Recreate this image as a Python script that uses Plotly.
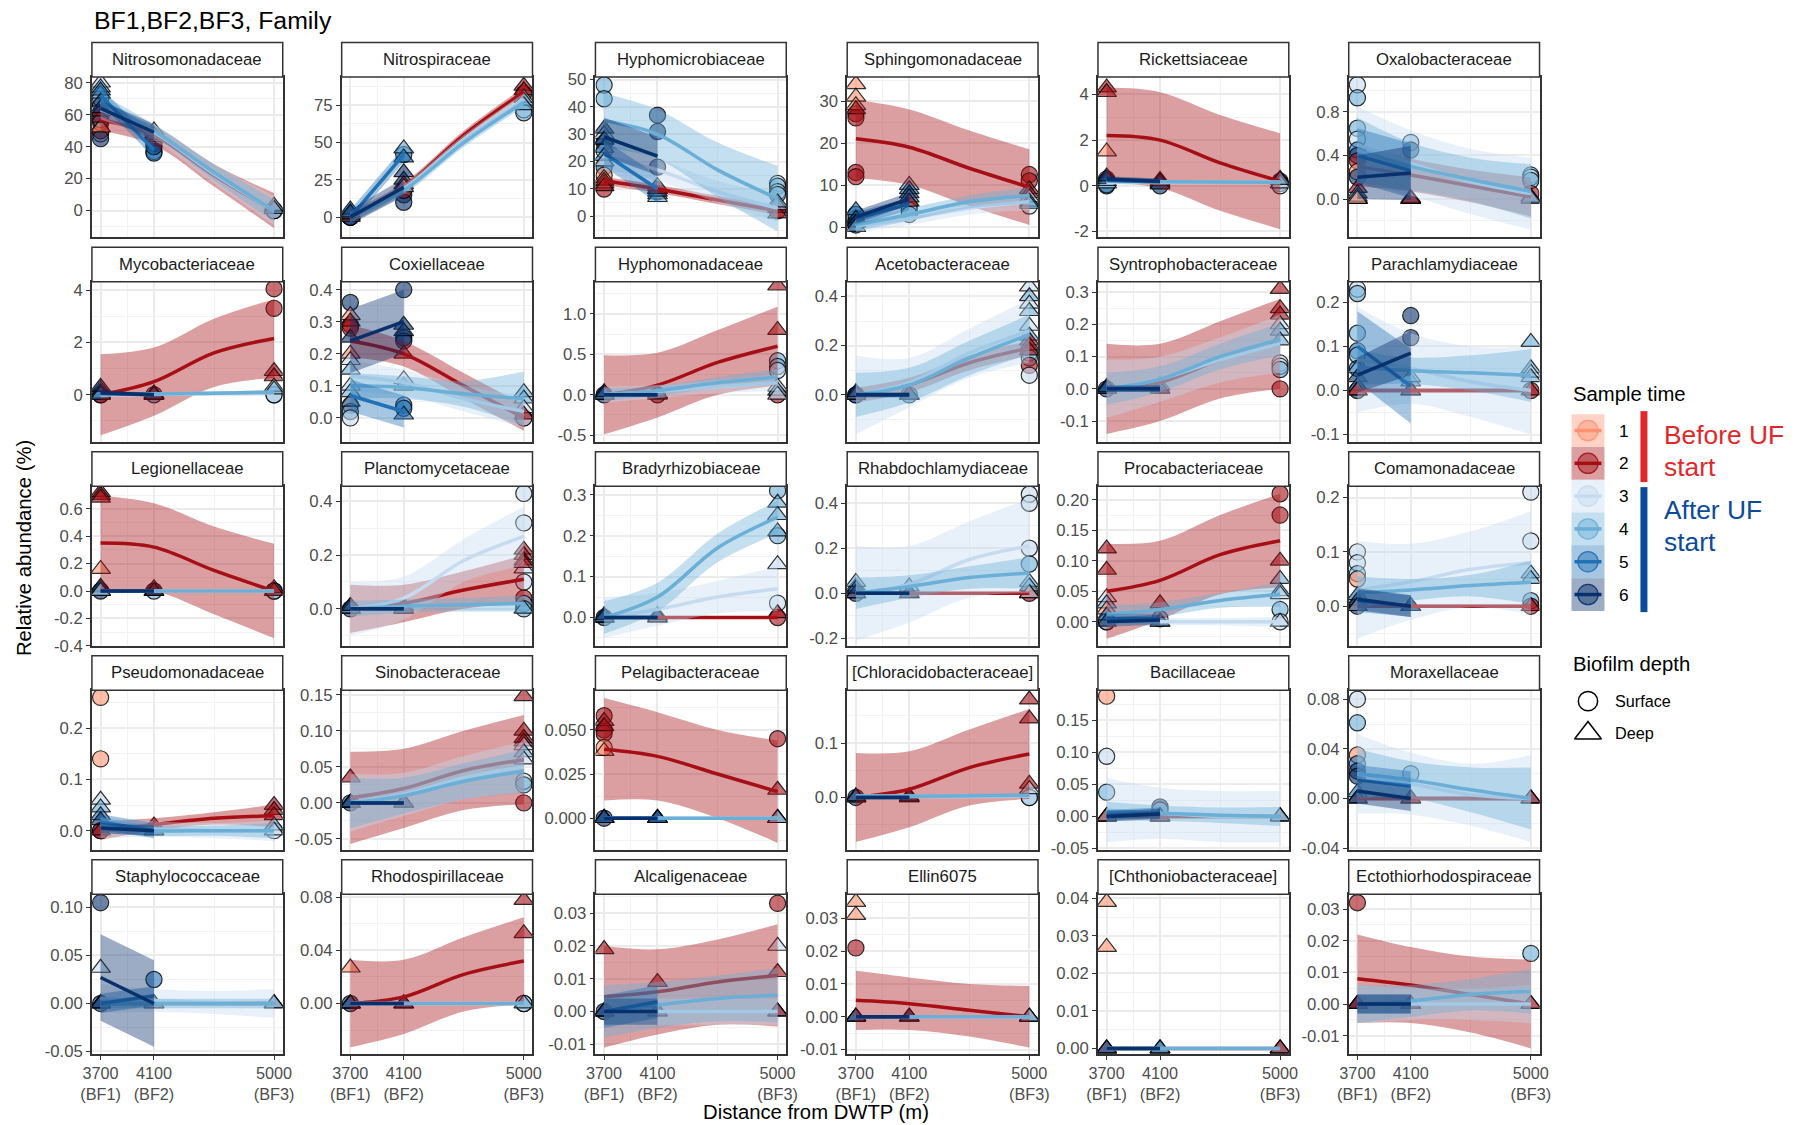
import plotly.graph_objects as go

# ---------------- data ----------------
FAMILIES = ["Nitrosomonadaceae", "Nitrospiraceae", "Hyphomicrobiaceae", "Sphingomonadaceae", "Rickettsiaceae", "Oxalobacteraceae",
            "Mycobacteriaceae", "Coxiellaceae", "Hyphomonadaceae", "Acetobacteraceae", "Syntrophobacteraceae", "Parachlamydiaceae",
            "Legionellaceae", "Planctomycetaceae", "Bradyrhizobiaceae", "Rhabdochlamydiaceae", "Procabacteriaceae", "Comamonadaceae",
            "Pseudomonadaceae", "Sinobacteraceae", "Pelagibacteraceae", "[Chloracidobacteraceae]", "Bacillaceae", "Moraxellaceae",
            "Staphylococcaceae", "Rhodospirillaceae", "Alcaligenaceae", "Ellin6075", "[Chthoniobacteraceae]", "Ectothiorhodospiraceae"]

DISTANCES = [3700, 4100, 5000]
DIST_LABELS = ["3700<br>(BF1)", "4100<br>(BF2)", "5000<br>(BF3)"]
X_MINOR = [3900, 4550]
FIT_X_LONG = [3700, 4100, 4550, 5000]
FIT_X_SHORT = [3700, 4100]
SAMPLE_TIMES = [1, 2, 3, 4, 5, 6]
TIME_COLORS = ["#FC9272", "#A50F15", "#C6DBEF", "#6BAED6", "#2171B5", "#08306B"]
DEPTHS = ["Surface", "Deep"]

Y_LIMITS = [[-16.6, 83.5], [-13.4, 93.9], [-7.6, 50.9], [-2.4, 35.7], [-2.25, 4.76], [-0.35, 1.12],
            [-1.79, 4.32], [-0.074, 0.425], [-0.58, 1.40], [-0.19, 0.46], [-0.164, 0.333], [-0.116, 0.247],
            [-0.402, 0.765], [-0.139, 0.457], [-0.07, 0.321], [-0.235, 0.476], [-0.04, 0.2225], [-0.0735, 0.221],
            [-0.038, 0.274], [-0.0656, 0.1565], [-0.0181, 0.0725], [-0.097, 0.1975], [-0.0526, 0.1974], [-0.0416, 0.0873],
            [-0.0528, 0.1139], [-0.0382, 0.0825], [-0.013, 0.0358], [-0.0114, 0.0374], [-0.0015, 0.0411], [-0.0158, 0.0347]]

Y_TICKS = [[0, 20, 40, 60, 80], [0, 25, 50, 75], [0, 10, 20, 30, 40, 50], [0, 10, 20, 30], [-2, 0, 2, 4], [0.0, 0.4, 0.8],
           [0, 2, 4], [0.0, 0.1, 0.2, 0.3, 0.4], [-0.5, 0.0, 0.5, 1.0], [0.0, 0.2, 0.4], [-0.1, 0.0, 0.1, 0.2, 0.3], [-0.1, 0.0, 0.1, 0.2],
           [-0.4, -0.2, 0.0, 0.2, 0.4, 0.6], [0.0, 0.2, 0.4], [0.0, 0.1, 0.2, 0.3], [-0.2, 0.0, 0.2, 0.4], [0.0, 0.05, 0.10, 0.15, 0.20], [0.0, 0.1, 0.2],
           [0.0, 0.1, 0.2], [-0.05, 0.0, 0.05, 0.10, 0.15], [0.0, 0.025, 0.05], [0.0, 0.1], [-0.05, 0.0, 0.05, 0.10, 0.15], [-0.04, 0.0, 0.04, 0.08],
           [-0.05, 0.0, 0.05, 0.10], [0.0, 0.04, 0.08], [-0.01, 0.0, 0.01, 0.02, 0.03], [-0.01, 0.0, 0.01, 0.02, 0.03], [0.0, 0.01, 0.02, 0.03, 0.04], [-0.01, 0.0, 0.01, 0.02, 0.03]]
Y_DECIMALS = [0, 0, 0, 0, 0, 1, 0, 1, 1, 1, 1, 1, 1, 1, 1, 1, 2, 1, 1, 2, 3, 1, 2, 2, 2, 2, 2, 2, 2, 2]

# observations: (sample time, distance, depth S/D, relative abundance %)
POINTS = [
    [(1, 3700, 'D', 52), (1, 3700, 'S', 48), (2, 3700, 'S', 50), (2, 3700, 'S', 55), (2, 3700, 'D', 58), (2, 3700, 'D', 62),
     (3, 3700, 'D', 80), (3, 3700, 'S', 66), (4, 3700, 'D', 77), (4, 3700, 'S', 70), (4, 3700, 'D', 73), (5, 3700, 'D', 75),
     (5, 3700, 'S', 60), (6, 3700, 'D', 68), (6, 3700, 'S', 45), (6, 3700, 'D', 64), (5, 3700, 'S', 57),
     (2, 4100, 'D', 48), (2, 4100, 'S', 43), (3, 4100, 'D', 50), (4, 4100, 'D', 46), (4, 4100, 'S', 42), (5, 4100, 'S', 37),
     (5, 4100, 'S', 36), (6, 4100, 'D', 47), (6, 4100, 'S', 40),
     (2, 5000, 'D', 2), (2, 5000, 'S', 0), (3, 5000, 'D', 3), (3, 5000, 'S', 0), (4, 5000, 'D', 1), (4, 5000, 'S', 0)],
    [(1, 3700, 'S', 0), (1, 3700, 'D', 0), (2, 3700, 'S', 0), (2, 3700, 'D', 1), (3, 3700, 'S', 0), (3, 3700, 'D', 2),
     (4, 3700, 'D', 3), (5, 3700, 'S', 0), (5, 3700, 'D', 5), (6, 3700, 'D', 3), (6, 3700, 'S', 0),
     (4, 4100, 'D', 46), (5, 4100, 'S', 42), (5, 4100, 'D', 40), (6, 4100, 'D', 30), (6, 4100, 'D', 25), (6, 4100, 'S', 15),
     (6, 4100, 'S', 10), (2, 4100, 'D', 22), (2, 4100, 'S', 18), (3, 4100, 'D', 20),
     (2, 5000, 'D', 88), (2, 5000, 'D', 85), (2, 5000, 'S', 83), (3, 5000, 'D', 80), (3, 5000, 'S', 72), (4, 5000, 'D', 78),
     (4, 5000, 'S', 70), (4, 5000, 'D', 75)],
    [(4, 3700, 'S', 48), (4, 3700, 'S', 43), (3, 3700, 'D', 30), (4, 3700, 'D', 28), (5, 3700, 'D', 25), (6, 3700, 'D', 32),
     (6, 3700, 'D', 28), (5, 3700, 'D', 22), (3, 3700, 'D', 20), (6, 3700, 'S', 27), (5, 3700, 'S', 18), (1, 3700, 'D', 14),
     (1, 3700, 'D', 12), (2, 3700, 'D', 13), (2, 3700, 'D', 11), (2, 3700, 'S', 10), (1, 3700, 'S', 15), (3, 3700, 'S', 24),
     (6, 4100, 'S', 37), (6, 4100, 'S', 31), (6, 4100, 'S', 18), (5, 4100, 'D', 10), (4, 4100, 'D', 8), (4, 4100, 'D', 7),
     (5, 4100, 'D', 9), (2, 4100, 'D', 10), (2, 4100, 'S', 9), (3, 4100, 'D', 11),
     (3, 5000, 'S', 12), (4, 5000, 'S', 11), (3, 5000, 'S', 9), (4, 5000, 'S', 8), (2, 5000, 'D', 3), (2, 5000, 'S', 2),
     (2, 5000, 'D', 1), (3, 5000, 'D', 4), (4, 5000, 'D', 5)],
    [(1, 3700, 'D', 34), (1, 3700, 'D', 31), (1, 3700, 'D', 29), (2, 3700, 'D', 28), (2, 3700, 'S', 27), (2, 3700, 'S', 26),
     (2, 3700, 'S', 13), (2, 3700, 'S', 12), (3, 3700, 'S', 1), (4, 3700, 'S', 2), (5, 3700, 'D', 4), (5, 3700, 'S', 3),
     (6, 3700, 'D', 2), (6, 3700, 'S', 0.5), (6, 3700, 'D', 1), (4, 3700, 'D', 0),
     (4, 4100, 'D', 10), (5, 4100, 'D', 9), (6, 4100, 'D', 8), (5, 4100, 'D', 7), (4, 4100, 'S', 5), (3, 4100, 'S', 4),
     (4, 4100, 'S', 3), (2, 4100, 'D', 6),
     (2, 5000, 'S', 12.5), (2, 5000, 'S', 11), (2, 5000, 'D', 9), (2, 5000, 'D', 8), (3, 5000, 'D', 7), (4, 5000, 'D', 6),
     (3, 5000, 'S', 5), (4, 5000, 'D', 5.5)],
    [(2, 3700, 'D', 4.3), (2, 3700, 'D', 4.1), (1, 3700, 'D', 1.5), (1, 3700, 'S', 0.3), (2, 3700, 'S', 0.2), (3, 3700, 'D', 0.1),
     (4, 3700, 'D', 0.2), (5, 3700, 'D', 0.3), (6, 3700, 'D', 0.4), (6, 3700, 'S', 0.1), (5, 3700, 'S', 0.0), (4, 3700, 'S', 0.05),
     (2, 4100, 'D', 0.25), (3, 4100, 'D', 0.1), (4, 4100, 'D', 0.15), (5, 4100, 'D', 0.05), (6, 4100, 'D', 0.2), (6, 4100, 'S', 0.0),
     (2, 5000, 'D', 0.3), (2, 5000, 'S', 0.2), (3, 5000, 'D', 0.1), (4, 5000, 'D', 0.25), (4, 5000, 'S', 0.1), (3, 5000, 'S', 0.0)],
    [(3, 3700, 'S', 1.05), (4, 3700, 'S', 0.93), (4, 3700, 'S', 0.65), (3, 3700, 'S', 0.55), (5, 3700, 'S', 0.45), (6, 3700, 'S', 0.4),
     (2, 3700, 'S', 0.35), (1, 3700, 'S', 0.25), (2, 3700, 'D', 0.1), (5, 3700, 'D', 0.05), (6, 3700, 'D', 0.0), (4, 3700, 'D', 0.0),
     (3, 3700, 'D', 0.02), (1, 3700, 'D', 0.0), (6, 3700, 'S', 0.2),
     (4, 4100, 'S', 0.52), (6, 4100, 'S', 0.45), (5, 4100, 'D', 0.0), (6, 4100, 'D', 0.0), (4, 4100, 'D', 0.01), (2, 4100, 'D', 0.0),
     (4, 5000, 'S', 0.22), (3, 5000, 'S', 0.2), (4, 5000, 'S', 0.17), (2, 5000, 'S', 0.05), (2, 5000, 'D', 0.02), (3, 5000, 'D', 0.0),
     (4, 5000, 'D', 0.01)],
    [(1, 3700, 'D', 0.2), (2, 3700, 'D', 0.1), (3, 3700, 'D', 0.0), (4, 3700, 'D', 0.05), (5, 3700, 'D', 0.0), (6, 3700, 'D', 0.3),
     (6, 3700, 'S', 0.0), (2, 3700, 'S', 0.0),
     (2, 4100, 'D', 0.0), (2, 4100, 'D', 0.05), (4, 4100, 'D', 0.0), (6, 4100, 'D', 0.0), (5, 4100, 'S', 0.0),
     (2, 5000, 'S', 4.05), (2, 5000, 'S', 3.3), (2, 5000, 'D', 0.9), (2, 5000, 'D', 0.7), (3, 5000, 'D', 0.3), (4, 5000, 'D', 0.2),
     (4, 5000, 'S', 0.0), (3, 5000, 'S', 0.0)],
    [(6, 3700, 'S', 0.36), (2, 3700, 'S', 0.29), (2, 3700, 'S', 0.28), (1, 3700, 'D', 0.32), (2, 3700, 'D', 0.3), (1, 3700, 'D', 0.2),
     (3, 3700, 'D', 0.18), (4, 3700, 'D', 0.15), (3, 3700, 'D', 0.1), (4, 3700, 'D', 0.08), (5, 3700, 'D', 0.05), (1, 3700, 'S', 0.04),
     (5, 3700, 'S', 0.02), (6, 3700, 'D', 0.25), (3, 3700, 'S', 0.0),
     (6, 4100, 'S', 0.4), (6, 4100, 'D', 0.29), (6, 4100, 'D', 0.27), (6, 4100, 'S', 0.25), (6, 4100, 'S', 0.24), (5, 4100, 'S', 0.04),
     (5, 4100, 'S', 0.03), (5, 4100, 'D', 0.01), (4, 4100, 'D', 0.1), (3, 4100, 'D', 0.12), (2, 4100, 'D', 0.2),
     (4, 5000, 'D', 0.08), (4, 5000, 'D', 0.06), (3, 5000, 'D', 0.03), (2, 5000, 'D', 0.01), (2, 5000, 'S', 0.0), (3, 5000, 'S', 0.0)],
    [(1, 3700, 'D', 0.0), (2, 3700, 'D', 0.02), (3, 3700, 'D', 0.0), (4, 3700, 'D', 0.0), (5, 3700, 'D', 0.0), (6, 3700, 'D', 0.03),
     (6, 3700, 'S', 0.0),
     (2, 4100, 'D', 0.02), (2, 4100, 'S', 0.0), (4, 4100, 'D', 0.0), (6, 4100, 'D', 0.01),
     (2, 5000, 'D', 1.35), (2, 5000, 'D', 0.8), (4, 5000, 'S', 0.42), (4, 5000, 'S', 0.35), (3, 5000, 'S', 0.3), (3, 5000, 'D', 0.1),
     (4, 5000, 'D', 0.05), (3, 5000, 'D', 0.0), (2, 5000, 'S', 0.0)],
    [(1, 3700, 'D', 0.0), (2, 3700, 'D', 0.0), (3, 3700, 'D', 0.0), (4, 3700, 'S', 0.0), (5, 3700, 'D', 0.0), (6, 3700, 'D', 0.01),
     (6, 3700, 'S', 0.0),
     (2, 4100, 'D', 0.0), (4, 4100, 'D', 0.0), (5, 4100, 'S', 0.0), (6, 4100, 'D', 0.0),
     (3, 5000, 'D', 0.44), (4, 5000, 'D', 0.4), (3, 5000, 'D', 0.37), (4, 5000, 'D', 0.34), (3, 5000, 'D', 0.28), (4, 5000, 'D', 0.24),
     (2, 5000, 'D', 0.22), (2, 5000, 'D', 0.2), (2, 5000, 'D', 0.18), (3, 5000, 'S', 0.17), (4, 5000, 'S', 0.15), (2, 5000, 'S', 0.12),
     (3, 5000, 'S', 0.08)],
    [(1, 3700, 'D', 0.0), (2, 3700, 'D', 0.0), (3, 3700, 'D', 0.0), (4, 3700, 'D', 0.0), (5, 3700, 'D', 0.0), (6, 3700, 'D', 0.005),
     (6, 3700, 'S', 0.0),
     (2, 4100, 'D', 0.0), (4, 4100, 'D', 0.01), (6, 4100, 'D', 0.0),
     (2, 5000, 'D', 0.31), (2, 5000, 'D', 0.25), (2, 5000, 'D', 0.23), (3, 5000, 'D', 0.2), (4, 5000, 'D', 0.18), (4, 5000, 'D', 0.15),
     (3, 5000, 'S', 0.08), (3, 5000, 'S', 0.07), (4, 5000, 'S', 0.06), (2, 5000, 'S', 0.0)],
    [(3, 3700, 'S', 0.23), (4, 3700, 'S', 0.22), (4, 3700, 'S', 0.13), (5, 3700, 'S', 0.09), (4, 3700, 'S', 0.08), (5, 3700, 'S', 0.05),
     (4, 3700, 'D', 0.05), (6, 3700, 'D', 0.03), (5, 3700, 'D', 0.01), (1, 3700, 'D', 0.0), (2, 3700, 'D', 0.0), (6, 3700, 'S', 0.0),
     (6, 4100, 'S', 0.17), (6, 4100, 'S', 0.12), (5, 4100, 'D', 0.02), (5, 4100, 'D', 0.0), (4, 4100, 'D', 0.03), (2, 4100, 'D', 0.0),
     (4, 5000, 'D', 0.11), (4, 5000, 'D', 0.05), (3, 5000, 'D', 0.04), (4, 5000, 'D', 0.03), (2, 5000, 'D', 0.0), (2, 5000, 'S', 0.0)],
    [(2, 3700, 'D', 0.72), (2, 3700, 'D', 0.7), (2, 3700, 'D', 0.68), (1, 3700, 'D', 0.16), (4, 3700, 'D', 0.02), (5, 3700, 'D', 0.0),
     (6, 3700, 'D', 0.03), (6, 3700, 'S', 0.0), (3, 3700, 'D', 0.0),
     (2, 4100, 'D', 0.02), (2, 4100, 'D', 0.0), (6, 4100, 'D', 0.0), (4, 4100, 'S', 0.0),
     (2, 5000, 'D', 0.02), (2, 5000, 'D', 0.0), (3, 5000, 'S', 0.0), (4, 5000, 'S', 0.0)],
    [(1, 3700, 'D', 0.0), (2, 3700, 'D', 0.0), (3, 3700, 'D', 0.0), (4, 3700, 'D', 0.01), (5, 3700, 'D', 0.0), (6, 3700, 'D', 0.01),
     (6, 3700, 'S', 0.0),
     (2, 4100, 'D', 0.0), (3, 4100, 'D', 0.01), (4, 4100, 'D', 0.0), (6, 4100, 'D', 0.0),
     (3, 5000, 'S', 0.43), (3, 5000, 'S', 0.32), (2, 5000, 'D', 0.22), (2, 5000, 'D', 0.2), (2, 5000, 'D', 0.18), (3, 5000, 'D', 0.15),
     (2, 5000, 'D', 0.17), (3, 5000, 'S', 0.1), (2, 5000, 'S', 0.04), (4, 5000, 'S', 0.02), (4, 5000, 'S', 0.0), (4, 5000, 'D', 0.0)],
    [(1, 3700, 'D', 0.0), (2, 3700, 'D', 0.0), (3, 3700, 'D', 0.0), (4, 3700, 'D', 0.0), (5, 3700, 'D', 0.0), (6, 3700, 'D', 0.005),
     (6, 3700, 'S', 0.0),
     (2, 4100, 'D', 0.0), (4, 4100, 'D', 0.0), (6, 4100, 'D', 0.005),
     (4, 5000, 'S', 0.31), (4, 5000, 'D', 0.28), (4, 5000, 'D', 0.25), (4, 5000, 'D', 0.21), (4, 5000, 'S', 0.2), (3, 5000, 'D', 0.13),
     (3, 5000, 'S', 0.035), (2, 5000, 'D', 0.01), (2, 5000, 'S', 0.0)],
    [(1, 3700, 'D', 0.0), (2, 3700, 'D', 0.0), (3, 3700, 'D', 0.03), (4, 3700, 'D', 0.05), (5, 3700, 'D', 0.0), (6, 3700, 'D', 0.02),
     (6, 3700, 'S', 0.0),
     (2, 4100, 'D', 0.0), (4, 4100, 'D', 0.03), (6, 4100, 'D', 0.0),
     (3, 5000, 'S', 0.44), (3, 5000, 'S', 0.4), (3, 5000, 'S', 0.2), (4, 5000, 'S', 0.13), (4, 5000, 'D', 0.05), (4, 5000, 'D', 0.03),
     (2, 5000, 'D', 0.0), (2, 5000, 'S', 0.0), (3, 5000, 'D', 0.0)],
    [(2, 3700, 'D', 0.12), (2, 3700, 'D', 0.085), (3, 3700, 'D', 0.04), (4, 3700, 'D', 0.03), (1, 3700, 'D', 0.02), (5, 3700, 'D', 0.01),
     (6, 3700, 'D', 0.0), (6, 3700, 'S', 0.0), (3, 3700, 'S', 0.0),
     (2, 4100, 'D', 0.03), (4, 4100, 'D', 0.0), (6, 4100, 'D', 0.0), (5, 4100, 'S', 0.005),
     (2, 5000, 'S', 0.21), (2, 5000, 'S', 0.175), (2, 5000, 'D', 0.1), (4, 5000, 'D', 0.07), (4, 5000, 'D', 0.05), (3, 5000, 'D', 0.045),
     (4, 5000, 'S', 0.02), (3, 5000, 'S', 0.0), (3, 5000, 'D', 0.0)],
    [(3, 3700, 'S', 0.1), (3, 3700, 'S', 0.08), (4, 3700, 'S', 0.06), (1, 3700, 'S', 0.05), (5, 3700, 'D', 0.02), (6, 3700, 'D', 0.01),
     (2, 3700, 'D', 0.0), (6, 3700, 'S', 0.0), (4, 3700, 'D', 0.0),
     (2, 4100, 'D', 0.0), (4, 4100, 'D', 0.0), (5, 4100, 'D', 0.0), (6, 4100, 'D', 0.0),
     (3, 5000, 'S', 0.21), (3, 5000, 'S', 0.12), (4, 5000, 'D', 0.06), (4, 5000, 'D', 0.05), (4, 5000, 'S', 0.01), (2, 5000, 'D', 0.0),
     (2, 5000, 'S', 0.0)],
    [(1, 3700, 'S', 0.26), (1, 3700, 'S', 0.14), (3, 3700, 'D', 0.06), (4, 3700, 'D', 0.045), (5, 3700, 'D', 0.03), (6, 3700, 'D', 0.02),
     (2, 3700, 'D', 0.0), (6, 3700, 'S', 0.0), (2, 3700, 'S', 0.0),
     (2, 4100, 'D', 0.01), (4, 4100, 'D', 0.0), (6, 4100, 'D', 0.0),
     (2, 5000, 'D', 0.05), (2, 5000, 'D', 0.04), (2, 5000, 'D', 0.03), (4, 5000, 'D', 0.01), (3, 5000, 'D', 0.0), (3, 5000, 'S', 0.0)],
    [(2, 3700, 'D', 0.035), (1, 3700, 'D', 0.0), (3, 3700, 'D', 0.0), (4, 3700, 'D', 0.0), (5, 3700, 'D', 0.0), (6, 3700, 'D', 0.0),
     (6, 3700, 'S', 0.0),
     (2, 4100, 'D', 0.0), (4, 4100, 'D', 0.0), (6, 4100, 'D', 0.0),
     (2, 5000, 'D', 0.148), (2, 5000, 'D', 0.1), (2, 5000, 'D', 0.09), (2, 5000, 'D', 0.085), (3, 5000, 'D', 0.08), (4, 5000, 'D', 0.07),
     (3, 5000, 'D', 0.06), (3, 5000, 'S', 0.03), (4, 5000, 'S', 0.025), (2, 5000, 'S', 0.0)],
    [(2, 3700, 'S', 0.058), (2, 3700, 'D', 0.055), (2, 3700, 'D', 0.052), (2, 3700, 'S', 0.05), (2, 3700, 'S', 0.048), (1, 3700, 'S', 0.04),
     (1, 3700, 'D', 0.038), (3, 3700, 'D', 0.0), (4, 3700, 'D', 0.0), (5, 3700, 'D', 0.0), (6, 3700, 'D', 0.0), (6, 3700, 'S', 0.0),
     (4, 4100, 'D', 0.0), (5, 4100, 'D', 0.0), (6, 4100, 'D', 0.0),
     (2, 5000, 'S', 0.045), (2, 5000, 'D', 0.016), (2, 5000, 'D', 0.0), (3, 5000, 'D', 0.0), (4, 5000, 'D', 0.0)],
    [(1, 3700, 'D', 0.0), (2, 3700, 'D', 0.0), (3, 3700, 'D', 0.0), (4, 3700, 'D', 0.0), (6, 3700, 'D', 0.002), (6, 3700, 'S', 0.0),
     (2, 4100, 'D', 0.0), (2, 4100, 'D', 0.002), (6, 4100, 'D', 0.0),
     (2, 5000, 'D', 0.18), (2, 5000, 'D', 0.145), (2, 5000, 'D', 0.025), (3, 5000, 'D', 0.015), (4, 5000, 'S', 0.0), (3, 5000, 'S', 0.0)],
    [(1, 3700, 'S', 0.188), (3, 3700, 'S', 0.094), (4, 3700, 'S', 0.038), (2, 3700, 'D', 0.0), (4, 3700, 'D', 0.0), (5, 3700, 'D', 0.0),
     (6, 3700, 'D', 0.0), (1, 3700, 'D', 0.0),
     (6, 4100, 'S', 0.015), (4, 4100, 'S', 0.01), (5, 4100, 'D', 0.0), (6, 4100, 'D', 0.0), (2, 4100, 'D', 0.0),
     (2, 5000, 'D', 0.0), (3, 5000, 'D', 0.0), (4, 5000, 'D', 0.0)],
    [(3, 3700, 'S', 0.08), (4, 3700, 'S', 0.061), (1, 3700, 'S', 0.035), (5, 3700, 'S', 0.028), (6, 3700, 'S', 0.022), (6, 3700, 'S', 0.018),
     (5, 3700, 'D', 0.005), (2, 3700, 'D', 0.0), (4, 3700, 'D', 0.0), (6, 3700, 'D', 0.0),
     (4, 4100, 'S', 0.02), (5, 4100, 'D', 0.0), (6, 4100, 'D', 0.0), (2, 4100, 'D', 0.0),
     (3, 5000, 'D', 0.0), (4, 5000, 'D', 0.0), (2, 5000, 'D', 0.0)],
    [(6, 3700, 'S', 0.105), (3, 3700, 'D', 0.037), (1, 3700, 'D', 0.0), (2, 3700, 'D', 0.0), (4, 3700, 'D', 0.0), (5, 3700, 'D', 0.0),
     (6, 3700, 'D', 0.0), (6, 3700, 'S', 0.0),
     (5, 4100, 'S', 0.025), (6, 4100, 'D', 0.0), (2, 4100, 'D', 0.0), (4, 4100, 'D', 0.0),
     (2, 5000, 'D', 0.0), (3, 5000, 'D', 0.0), (4, 5000, 'D', 0.0)],
    [(1, 3700, 'D', 0.027), (2, 3700, 'D', 0.0), (3, 3700, 'D', 0.0), (4, 3700, 'D', 0.0), (6, 3700, 'D', 0.0), (6, 3700, 'S', 0.0),
     (2, 4100, 'D', 0.0), (6, 4100, 'D', 0.0),
     (2, 5000, 'D', 0.078), (2, 5000, 'D', 0.053), (4, 5000, 'D', 0.0), (4, 5000, 'S', 0.0), (3, 5000, 'S', 0.0)],
    [(2, 3700, 'D', 0.019), (1, 3700, 'D', 0.0), (3, 3700, 'D', 0.0), (5, 3700, 'D', 0.0), (6, 3700, 'D', 0.0), (6, 3700, 'S', 0.0),
     (2, 4100, 'D', 0.009), (4, 4100, 'D', 0.0), (6, 4100, 'D', 0.0),
     (2, 5000, 'S', 0.033), (3, 5000, 'D', 0.02), (2, 5000, 'D', 0.012), (3, 5000, 'D', 0.0), (4, 5000, 'D', 0.0), (2, 5000, 'D', 0.0)],
    [(1, 3700, 'D', 0.035), (1, 3700, 'D', 0.031), (2, 3700, 'S', 0.021), (1, 3700, 'D', 0.0), (2, 3700, 'D', 0.0), (3, 3700, 'D', 0.0),
     (6, 3700, 'D', 0.0),
     (2, 4100, 'D', 0.0), (6, 4100, 'D', 0.0),
     (2, 5000, 'D', 0.0), (3, 5000, 'D', 0.0), (4, 5000, 'D', 0.0)],
    [(1, 3700, 'D', 0.039), (1, 3700, 'D', 0.027), (2, 3700, 'D', 0.0), (3, 3700, 'D', 0.0), (6, 3700, 'D', 0.0),
     (5, 4100, 'D', 0.0), (6, 4100, 'D', 0.0), (4, 4100, 'D', 0.0),
     (3, 5000, 'D', 0.0), (4, 5000, 'D', 0.0), (2, 5000, 'D', 0.0)],
    [(2, 3700, 'S', 0.032), (4, 3700, 'D', 0.0), (5, 3700, 'D', 0.0), (6, 3700, 'D', 0.0), (2, 3700, 'D', 0.0),
     (4, 4100, 'D', 0.0), (6, 4100, 'D', 0.0), (2, 4100, 'D', 0.0),
     (4, 5000, 'S', 0.016), (3, 5000, 'D', 0.0), (2, 5000, 'D', 0.0)],
]

# smoothed fit per sample time: (fitted values, standard-error half widths)
# times 2-4 at FIT_X_LONG, times 5-6 at FIT_X_SHORT
FITS = [
    {2: ([57, 47, 22, 0], [7, 6, 7, 11]), 3: ([63, 49, 23, 0], [6, 5, 6, 9]), 4: ([68, 50, 24, 0], [5, 4, 5, 7]),
     5: ([72, 38], [5, 5]), 6: ([64, 49], [5, 5])},
    {2: ([0, 20, 55, 84], [4, 3, 3, 3]), 3: ([0, 19, 52, 79], [4, 3, 3, 4]), 4: ([0, 18, 50, 77], [3, 3, 3, 3]),
     5: ([0, 42], [5, 5]), 6: ([0, 20], [5, 6])},
    {2: ([13, 10, 6, 2], [1.5, 1.5, 1.5, 1.5]), 3: ([22, 17, 9, 3], [5, 4, 4, 5]), 4: ([35, 30, 17, 6.5], [10, 9, 10, 12]),
     5: ([23, 10], [5, 5]), 6: ([29, 22], [7, 7])},
    {2: ([21, 19, 14, 9.5], [9.3, 9, 9, 9]), 3: ([0.3, 2, 4.5, 6], [1.5, 1.5, 1.5, 2]), 4: ([0.5, 3, 6, 7.5], [1.5, 1.5, 1.5, 2]),
     5: ([2, 5.5], [1.5, 1.5]), 6: ([2.4, 6.7], [1.5, 1.5])},
    {2: ([2.2, 2.0, 1.0, 0.2], [2.1, 2.1, 2.1, 2.1]), 3: ([0.15, 0.15, 0.15, 0.15], [0.1, 0.1, 0.1, 0.1]),
     4: ([0.2, 0.18, 0.16, 0.15], [0.08, 0.08, 0.08, 0.08]), 5: ([0.25, 0.2], [0.1, 0.1]), 6: ([0.3, 0.2], [0.12, 0.12])},
    {2: ([0.3, 0.22, 0.12, 0.02], [0.18, 0.15, 0.15, 0.18]), 3: ([0.5, 0.33, 0.16, 0.05], [0.35, 0.3, 0.3, 0.33]),
     4: ([0.45, 0.3, 0.18, 0.07], [0.3, 0.22, 0.2, 0.25]), 5: ([0.4, 0.26], [0.25, 0.25]), 6: ([0.2, 0.24], [0.2, 0.25])},
    {2: ([0.0, 0.5, 1.6, 2.15], [1.55, 1.3, 1.3, 1.5]), 3: ([0, 0.02, 0.05, 0.08], [0.1, 0.08, 0.08, 0.1]),
     4: ([0.02, 0.03, 0.06, 0.1], [0.08, 0.06, 0.06, 0.08]), 5: ([0.05, 0.0], [0.06, 0.06]), 6: ([0.08, 0.0], [0.08, 0.08])},
    {2: ([0.24, 0.2, 0.1, 0.0], [0.05, 0.04, 0.04, 0.04]), 3: ([0.13, 0.11, 0.06, 0.02], [0.05, 0.04, 0.04, 0.05]),
     4: ([0.10, 0.095, 0.075, 0.06], [0.04, 0.035, 0.04, 0.085]), 5: ([0.07, 0.02], [0.05, 0.05]), 6: ([0.24, 0.30], [0.1, 0.1])},
    {2: ([0.0, 0.12, 0.4, 0.6], [0.49, 0.4, 0.4, 0.49]), 3: ([0.0, 0.04, 0.1, 0.15], [0.1, 0.08, 0.08, 0.1]),
     4: ([0.0, 0.05, 0.15, 0.22], [0.08, 0.06, 0.07, 0.1]), 5: ([0, 0], [0.02, 0.02]), 6: ([0, 0], [0.02, 0.02])},
    {2: ([0, 0.04, 0.13, 0.19], [0.03, 0.03, 0.03, 0.03]), 3: ([0, 0.05, 0.17, 0.26], [0.16, 0.1, 0.1, 0.13]),
     4: ([0, 0.04, 0.15, 0.245], [0.09, 0.07, 0.07, 0.08]), 5: ([0, 0], [0.01, 0.01]), 6: ([0, 0], [0.01, 0.01])},
    {2: ([0, 0.02, 0.09, 0.14], [0.14, 0.12, 0.12, 0.14]), 3: ([0, 0.03, 0.09, 0.14], [0.09, 0.07, 0.07, 0.09]),
     4: ([0, 0.03, 0.1, 0.154], [0.05, 0.04, 0.04, 0.05]), 5: ([0, 0], [0.01, 0.01]), 6: ([0, 0], [0.01, 0.01])},
    {2: ([0, 0, 0, 0], [0.005, 0.005, 0.005, 0.005]), 3: ([0.07, 0.05, 0.02, 0.0], [0.12, 0.08, 0.08, 0.1]),
     4: ([0.052, 0.045, 0.04, 0.034], [0.04, 0.03, 0.04, 0.06]), 5: ([0.1, 0.01], [0.08, 0.085]), 6: ([0.035, 0.085], [0.04, 0.05])},
    {2: ([0.35, 0.32, 0.15, 0.0], [0.345, 0.32, 0.32, 0.345]), 3: ([0, 0, 0, 0], [0.005, 0.005, 0.005, 0.005]),
     4: ([0, 0, 0, 0], [0.005, 0.005, 0.005, 0.005]), 5: ([0, 0], [0.005, 0.005]), 6: ([0, 0], [0.005, 0.005])},
    {2: ([0, 0.02, 0.07, 0.11], [0.09, 0.07, 0.07, 0.09]), 3: ([0, 0.04, 0.18, 0.27], [0.1, 0.08, 0.08, 0.11]),
     4: ([0, 0.01, 0.015, 0.02], [0.03, 0.025, 0.025, 0.03]), 5: ([0, 0], [0.005, 0.005]), 6: ([0, 0], [0.005, 0.005])},
    {2: ([0, 0, 0, 0], [0.003, 0.003, 0.003, 0.003]), 3: ([0, 0.02, 0.05, 0.07], [0.05, 0.04, 0.04, 0.055]),
     4: ([0, 0.05, 0.17, 0.245], [0.04, 0.035, 0.035, 0.04]), 5: ([0, 0], [0.003, 0.003]), 6: ([0, 0], [0.003, 0.003])},
    {2: ([0, 0, 0, 0], [0.003, 0.003, 0.003, 0.003]), 3: ([0, 0.04, 0.15, 0.21], [0.21, 0.17, 0.17, 0.21]),
     4: ([0, 0.03, 0.07, 0.09], [0.07, 0.05, 0.05, 0.07]), 5: ([0, 0], [0.003, 0.003]), 6: ([0, 0], [0.003, 0.003])},
    {2: ([0.05, 0.068, 0.11, 0.133], [0.078, 0.065, 0.065, 0.077]), 3: ([0, 0, 0, 0], [0.008, 0.006, 0.006, 0.008]),
     4: ([0.012, 0.02, 0.035, 0.045], [0.015, 0.012, 0.012, 0.02]), 5: ([0.005, 0.005], [0.008, 0.008]), 6: ([0.0, 0.003], [0.008, 0.008])},
    {2: ([0, 0, 0, 0], [0.003, 0.003, 0.003, 0.003]), 3: ([0.03, 0.045, 0.068, 0.08], [0.09, 0.07, 0.07, 0.095]),
     4: ([0.025, 0.03, 0.038, 0.044], [0.03, 0.02, 0.02, 0.04]), 5: ([0.01, 0.0], [0.02, 0.02]), 6: ([0.013, 0.0], [0.02, 0.02])},
    {2: ([0.0, 0.012, 0.024, 0.029], [0.018, 0.012, 0.012, 0.022]), 3: ([0.005, 0.003, 0.0, 0.0], [0.02, 0.015, 0.015, 0.02]),
     4: ([0.01, 0.0, 0.0, 0.0], [0.015, 0.01, 0.01, 0.015]), 5: ([0.017, 0.0], [0.015, 0.015]), 6: ([0.005, 0.0], [0.01, 0.01])},
    {2: ([0.007, 0.02, 0.045, 0.06], [0.064, 0.055, 0.055, 0.062]), 3: ([0, 0.012, 0.035, 0.05], [0.04, 0.03, 0.03, 0.035]),
     4: ([0, 0.01, 0.03, 0.044], [0.035, 0.025, 0.025, 0.03]), 5: ([0, 0], [0.002, 0.002]), 6: ([0, 0], [0.002, 0.002])},
    {2: ([0.039, 0.035, 0.025, 0.015], [0.029, 0.025, 0.025, 0.029]), 3: ([0, 0, 0, 0], [0.0005, 0.0005, 0.0005, 0.0005]),
     4: ([0, 0, 0, 0], [0.0005, 0.0005, 0.0005, 0.0005]), 5: ([0, 0], [0.0005, 0.0005]), 6: ([0, 0], [0.0005, 0.0005])},
    {2: ([0, 0.015, 0.055, 0.08], [0.082, 0.07, 0.07, 0.083]), 3: ([0.002, 0.002, 0.002, 0.003], [0.004, 0.004, 0.004, 0.004]),
     4: ([0.002, 0.002, 0.003, 0.004], [0.004, 0.004, 0.004, 0.004]), 5: ([0, 0], [0.003, 0.003]), 6: ([0, 0], [0.003, 0.003])},
    {2: ([0, 0, 0, 0], [0.003, 0.003, 0.003, 0.003]), 3: ([0.01, 0.005, 0.0, 0.0], [0.05, 0.04, 0.04, 0.04]),
     4: ([0.008, 0.005, 0.002, 0.0], [0.015, 0.012, 0.012, 0.015]), 5: ([0.002, 0.006], [0.008, 0.008]), 6: ([0.0, 0.004], [0.008, 0.008])},
    {2: ([0, 0, 0, 0], [0.002, 0.002, 0.002, 0.002]), 3: ([0.02, 0.012, 0.003, 0.0], [0.032, 0.025, 0.025, 0.035]),
     4: ([0.02, 0.015, 0.007, 0.0], [0.02, 0.015, 0.018, 0.025]), 5: ([0.015, 0.01], [0.012, 0.012]), 6: ([0.006, 0.0], [0.01, 0.01])},
    {2: ([0, 0, 0, 0], [0.002, 0.002, 0.002, 0.002]), 3: ([0.005, 0.003, 0.001, 0.0], [0.015, 0.012, 0.012, 0.015]),
     4: ([0, 0, 0, 0], [0.005, 0.005, 0.005, 0.005]), 5: ([0.0, 0.008], [0.01, 0.01]), 6: ([0.027, 0.0], [0.045, 0.045])},
    {2: ([0.0, 0.005, 0.022, 0.032], [0.033, 0.028, 0.028, 0.033]), 3: ([0, 0, 0, 0], [0.001, 0.001, 0.001, 0.001]),
     4: ([0, 0, 0, 0], [0.001, 0.001, 0.001, 0.001]), 5: ([0, 0], [0.001, 0.001]), 6: ([0, 0], [0.001, 0.001])},
    {2: ([0.0045, 0.006, 0.009, 0.011], [0.0155, 0.013, 0.013, 0.0156]), 3: ([0, 0, 0, 0], [0.004, 0.004, 0.004, 0.004]),
     4: ([0, 0.002, 0.004, 0.005], [0.008, 0.007, 0.007, 0.0083]), 5: ([0.0, 0.003], [0.005, 0.005]), 6: ([0, 0], [0.004, 0.004])},
    {2: ([0.005, 0.004, 0.002, 0.0], [0.009, 0.008, 0.008, 0.0094]), 3: ([0, 0, 0, 0], [0.0005, 0.0005, 0.0005, 0.0005]),
     4: ([0, 0, 0, 0], [0.0005, 0.0005, 0.0005, 0.0005]), 5: ([0, 0], [0.0005, 0.0005]), 6: ([0, 0], [0.0005, 0.0005])},
    {2: ([0, 0, 0, 0], [0.0002, 0.0002, 0.0002, 0.0002]), 3: ([0, 0, 0, 0], [0.0002, 0.0002, 0.0002, 0.0002]),
     4: ([0, 0, 0, 0], [0.0002, 0.0002, 0.0002, 0.0002]), 5: ([0, 0], [0.0002, 0.0002]), 6: ([0, 0], [0.0002, 0.0002])},
    {2: ([0.008, 0.006, 0.003, 0.0], [0.014, 0.012, 0.012, 0.014]), 3: ([0, 0, 0, 0], [0.006, 0.005, 0.005, 0.006]),
     4: ([0, 0.001, 0.003, 0.004], [0.006, 0.005, 0.005, 0.007]), 5: ([0, 0], [0.003, 0.003]), 6: ([0, 0], [0.003, 0.003])},
]

# ---------------- layout geometry ----------------
# Target positions below are in pixels of the final 1800x1125 picture.
# The page capture is slightly reduced (measured ~0.988 x / ~0.985 y with a small x offset),
# so the page geometry is enlarged accordingly.
SX, SY = 0.9877, 0.985
AX, AY = 3.1, 0.0
OFF = 8                        # default body margin of the page
W, H = 1812, 1135              # figure size in page pixels
FS = 1 / ((SX + SY) / 2)       # font/marker compensation

COL_LEFT = [91, 341, 595, 847, 1098, 1349]
PANEL_W = 191
ROW_TOP = [78, 282.5, 487, 691, 895]
PANEL_H = 160
STRIP_H = 34.5
FONT = "Liberation Sans, Arial, Helvetica, sans-serif"
BORDER = "#333333"


def rgba(hx, a):
    hx = hx.lstrip('#')
    r, g, b = int(hx[0:2], 16), int(hx[2:4], 16), int(hx[4:6], 16)
    return f"rgba({r},{g},{b},{a})"


def dom_x(f):
    return ((f - AX) / SX - OFF) / W


def dom_y(f):
    return 1 - ((f - AY) / SY - OFF) / H


fig = go.Figure()
layout = dict(width=W, height=H, margin=dict(l=0, r=0, t=0, b=0), autosize=False,
              paper_bgcolor="white", plot_bgcolor="rgba(0,0,0,0)", showlegend=False,
              font=dict(family=FONT, color="black"))
shapes = []
annotations = []

for k, fam in enumerate(FAMILIES):
    r, c = divmod(k, 6)
    n = k + 1
    xa = "x" if n == 1 else f"x{n}"
    ya = "y" if n == 1 else f"y{n}"
    left = COL_LEFT[c]
    top = ROW_TOP[r]
    xdom = [dom_x(left), dom_x(left + PANEL_W)]
    ydom = [dom_y(top + PANEL_H), dom_y(top)]

    ticks = Y_TICKS[k]
    lo, hi = Y_LIMITS[k]
    step = ticks[1] - ticks[0]
    yminor = [v for v in [ticks[0] - step / 2] + [t + step / 2 for t in ticks] if lo < v < hi]
    ticktext = [f"{t:.{Y_DECIMALS[k]}f}" for t in ticks]

    bottom = (r == 4)
    layout["xaxis" if n == 1 else f"xaxis{n}"] = dict(
        domain=xdom, anchor=ya, range=[3635, 5065], tickmode="array", tickvals=DISTANCES,
        ticktext=DIST_LABELS, showticklabels=bottom, ticks="outside" if bottom else "",
        ticklen=4, tickwidth=1.2, tickcolor=BORDER, tickfont=dict(size=16 * FS, color="#4D4D4D", family=FONT),
        showgrid=True, gridcolor="#EBEBEB", gridwidth=1.8, zeroline=False,
        showline=True, linecolor=BORDER, linewidth=1.5, mirror=True, fixedrange=True,
        minor=dict(tickmode="array", tickvals=X_MINOR, showgrid=True, gridcolor="#F2F2F2", gridwidth=1))
    layout["yaxis" if n == 1 else f"yaxis{n}"] = dict(
        domain=ydom, anchor=xa, range=[lo, hi], tickmode="array", tickvals=ticks, ticktext=ticktext,
        ticks="outside", ticklen=4, tickwidth=1.2, tickcolor=BORDER,
        tickfont=dict(size=16.5 * FS, color="#4D4D4D", family=FONT),
        showgrid=True, gridcolor="#EBEBEB", gridwidth=1.8, zeroline=False,
        showline=True, linecolor=BORDER, linewidth=1.5, mirror=True, fixedrange=True,
        minor=dict(tickmode="array", tickvals=yminor, showgrid=True, gridcolor="#F2F2F2", gridwidth=1))

    # points
    for depth, sym, size in (("S", "circle", 16), ("D", "triangle-up", 17)):
        pts = [p for p in POINTS[k] if p[2] == depth]
        fig.add_trace(go.Scatter(
            x=[p[1] for p in pts], y=[p[3] for p in pts], mode="markers", xaxis=xa, yaxis=ya,
            marker=dict(symbol=sym, size=size * FS, color=[rgba(TIME_COLORS[p[0] - 1], 0.6) for p in pts],
                        line=dict(color="rgba(0,0,0,0.8)", width=1.2)),
            hoverinfo="skip", cliponaxis=True))

    # smooth fits: ribbon + line per sample time
    for t in (2, 3, 4, 5, 6):
        mid, hw = FITS[k][t]
        xs = FIT_X_LONG if len(mid) == 4 else FIT_X_SHORT
        col = TIME_COLORS[t - 1]
        lower = [m - h for m, h in zip(mid, hw)]
        upper = [m + h for m, h in zip(mid, hw)]
        fig.add_trace(go.Scatter(x=xs, y=lower, mode="lines", xaxis=xa, yaxis=ya,
                                 line=dict(width=0, shape="spline", color=col), hoverinfo="skip"))
        fig.add_trace(go.Scatter(x=xs, y=upper, mode="lines", xaxis=xa, yaxis=ya, fill="tonexty",
                                 fillcolor=rgba(col, 0.4),
                                 line=dict(width=0, shape="spline", color=col), hoverinfo="skip"))
        fig.add_trace(go.Scatter(x=xs, y=mid, mode="lines", xaxis=xa, yaxis=ya,
                                 line=dict(width=3.5, shape="spline", color=col), hoverinfo="skip"))

    # strip
    shapes.append(dict(type="rect", xref="x31", yref="y31", x0=left, x1=left + PANEL_W,
                       y0=top - STRIP_H, y1=top, fillcolor="white", line=dict(color=BORDER, width=1.5), layer="above"))
    annotations.append(dict(xref="x31", yref="y31", x=left + PANEL_W / 2, y=top - STRIP_H / 2, text=fam,
                            showarrow=False, xanchor="center", yanchor="middle",
                            font=dict(size=16.5 * FS, color="#1A1A1A", family=FONT)))

# overlay axis expressed in final-picture pixels for titles and legend
layout["xaxis31"] = dict(domain=[0, 1], range=[AX + OFF * SX, AX + (OFF + W) * SX], visible=False,
                         anchor="y31", fixedrange=True)
layout["yaxis31"] = dict(domain=[0, 1], range=[AY + (OFF + H) * SY, AY + OFF * SY], visible=False,
                         anchor="x31", fixedrange=True)

annotations.append(dict(xref="x31", yref="y31", x=91, y=21, text="BF1,BF2,BF3, Family", showarrow=False,
                        xanchor="left", yanchor="middle", font=dict(size=24.5 * FS, color="black", family=FONT)))
annotations.append(dict(xref="x31", yref="y31", x=23, y=549, text="Relative abundance (%)", showarrow=False,
                        textangle=-90, xanchor="center", yanchor="middle", font=dict(size=20 * FS, color="black", family=FONT)))
annotations.append(dict(xref="x31", yref="y31", x=816, y=1113, text="Distance from DWTP (m)", showarrow=False,
                        xanchor="center", yanchor="middle", font=dict(size=20 * FS, color="black", family=FONT)))

# legend: sample time
annotations.append(dict(xref="x31", yref="y31", x=1571, y=395, text="Sample time", showarrow=False,
                        xanchor="left", yanchor="middle", font=dict(size=20 * FS, color="black", family=FONT)))
KEY_TOP, KEY_H = 415, 32.8
for i, t in enumerate(SAMPLE_TIMES):
    col = TIME_COLORS[i]
    y0 = KEY_TOP + KEY_H * i
    cy = y0 + KEY_H / 2
    shapes.append(dict(type="rect", xref="x31", yref="y31", x0=1572, x1=1605, y0=y0, y1=y0 + KEY_H,
                       fillcolor=rgba(col, 0.4), line=dict(width=0), layer="below"))
    fig.add_trace(go.Scatter(x=[1575, 1602], y=[cy, cy], mode="lines", xaxis="x31", yaxis="y31",
                             line=dict(color=col, width=3.5), hoverinfo="skip"))
    fig.add_trace(go.Scatter(x=[1588.5], y=[cy], mode="markers", xaxis="x31", yaxis="y31",
                             marker=dict(symbol="circle", size=20 * FS, color=rgba(col, 0.45),
                                         line=dict(color=rgba(col, 0.9), width=1.3)), hoverinfo="skip"))
    annotations.append(dict(xref="x31", yref="y31", x=1618, y=cy, text=str(t), showarrow=False,
                            xanchor="left", yanchor="middle", font=dict(size=17 * FS, color="black", family=FONT)))

RED_TXT, BLUE_TXT = "#E3262A", "#0C4A9A"
shapes.append(dict(type="rect", xref="x31", yref="y31", x0=1641, x1=1648, y0=412, y1=483,
                   fillcolor=RED_TXT, line=dict(width=0), layer="above"))
shapes.append(dict(type="rect", xref="x31", yref="y31", x0=1641, x1=1648, y0=488, y1=613,
                   fillcolor=BLUE_TXT, line=dict(width=0), layer="above"))
for txt, yy, colr in (("Before UF", 436, RED_TXT), ("start", 468, RED_TXT),
                      ("After UF", 511, BLUE_TXT), ("start", 543, BLUE_TXT)):
    annotations.append(dict(xref="x31", yref="y31", x=1663, y=yy, text=txt, showarrow=False,
                            xanchor="left", yanchor="middle", font=dict(size=26 * FS, color=colr, family=FONT)))

# legend: biofilm depth
annotations.append(dict(xref="x31", yref="y31", x=1571, y=665, text="Biofilm depth", showarrow=False,
                        xanchor="left", yanchor="middle", font=dict(size=20 * FS, color="black", family=FONT)))
for label, sym, sz, yy in (("Surface", "circle", 19, 702), ("Deep", "triangle-up", 23, 734)):
    fig.add_trace(go.Scatter(x=[1588.5], y=[yy], mode="markers", xaxis="x31", yaxis="y31",
                             marker=dict(symbol=sym, size=sz * FS, color="white", line=dict(color="black", width=1.5)),
                             hoverinfo="skip"))
    annotations.append(dict(xref="x31", yref="y31", x=1614, y=yy, text=label, showarrow=False,
                            xanchor="left", yanchor="middle", font=dict(size=16 * FS, color="black", family=FONT)))

layout["shapes"] = shapes
layout["annotations"] = annotations
fig.update_layout(**layout)
fig.write_html("out.html")
